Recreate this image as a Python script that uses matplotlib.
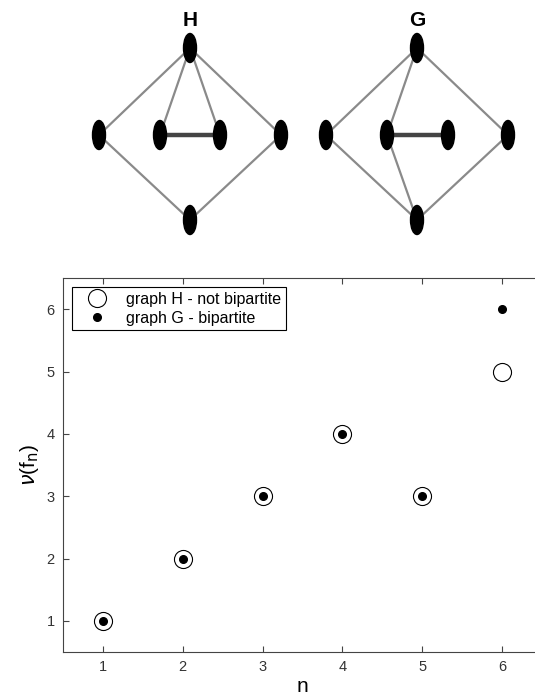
import numpy as np
import matplotlib.pyplot as plt
from matplotlib.patches import Ellipse

plt.rcParams['font.family'] = ['Liberation Sans', 'DejaVu Sans']

# data: values of nu(f_n) for both graphs
n = [1, 2, 3, 4, 5, 6]
nu_H = [1, 2, 3, 4, 3, 5]   # graph H - not bipartite
nu_G = [1, 2, 3, 4, 3, 6]   # graph G - bipartite

# the two small graphs drawn above the chart
graph_names = ['H', 'G']
node_names = ['top', 'left', 'inl', 'inr', 'right', 'bottom']
edges_H = [('top', 'left'), ('top', 'right'), ('top', 'inl'), ('top', 'inr'),
           ('inl', 'inr'), ('left', 'bottom'), ('right', 'bottom')]
edges_G = [('top', 'left'), ('top', 'right'), ('top', 'inl'),
           ('inl', 'inr'), ('left', 'bottom'), ('right', 'bottom'), ('inl', 'bottom')]

fig = plt.figure(figsize=(5.35, 7), dpi=100)

# ---- top drawing (pixel coordinates) ----
top = fig.add_axes([0, 1 - 250 / 700, 1, 250 / 700])
top.set_xlim(0, 535)
top.set_ylim(250, 0)
top.axis('off')

def layout(cx, dx_out, dx_in):
    return {'top': (cx, 48), 'left': (cx - dx_out, 135), 'inl': (cx - dx_in, 135),
            'inr': (cx + dx_in, 135), 'right': (cx + dx_out, 135), 'bottom': (cx, 220)}

layouts = [layout(190, 91, 30), layout(417, 91, 30)]
layouts[1]['inl'] = (387, 135)
layouts[1]['inr'] = (448, 135)

for name, pos, edges in zip(graph_names, layouts, [edges_H, edges_G]):
    for a, b in edges:
        (x1, y1), (x2, y2) = pos[a], pos[b]
        if {a, b} == {'inl', 'inr'}:
            top.plot([x1, x2], [y1, y2], color='#444444', lw=3.2, zorder=1)
        else:
            top.plot([x1, x2], [y1, y2], color='#8a8a8a', lw=1.6, zorder=1)
    for k in node_names:
        top.add_patch(Ellipse(pos[k], 13, 29, color='black', zorder=2))
    top.text(pos['top'][0], 21, name, ha='center', va='center',
             fontsize=15, fontweight='bold')

# ---- main chart ----
ax = fig.add_axes([63 / 535, 48 / 700, 479 / 535, 374 / 700])
ax.plot(n, nu_H, 'o', mfc='white', mec='black', mew=0.8, ms=13, ls='none',
        label='graph H - not bipartite')
ax.plot(n, nu_G, 'o', color='black', ms=5.5, ls='none',
        label='graph G - bipartite')

ax.set_xlim(0.5, 6.5)
ax.set_ylim(0.5, 6.5)
ax.set_xticks(n)
ax.set_yticks(range(1, 7))
ax.tick_params(direction='in', top=True, right=True, labelsize=10.5,
               labelcolor='#333333', color='#444444', length=4, pad=6)
for s in ax.spines.values():
    s.set_color('#444444')
ax.set_xlabel('n', fontsize=15, labelpad=2)
ax.set_ylabel(r'$\nu$(f$_\mathrm{n}$)', fontsize=15, labelpad=4)

leg = ax.legend(loc='upper left', fontsize=11.5, fancybox=False, framealpha=1,
                edgecolor='black', borderaxespad=0.55, handletextpad=0.5,
                handlelength=2.6, borderpad=0.3, labelspacing=0.25)
leg.get_frame().set_linewidth(0.8)

fig.savefig('out.png', dpi=100)
